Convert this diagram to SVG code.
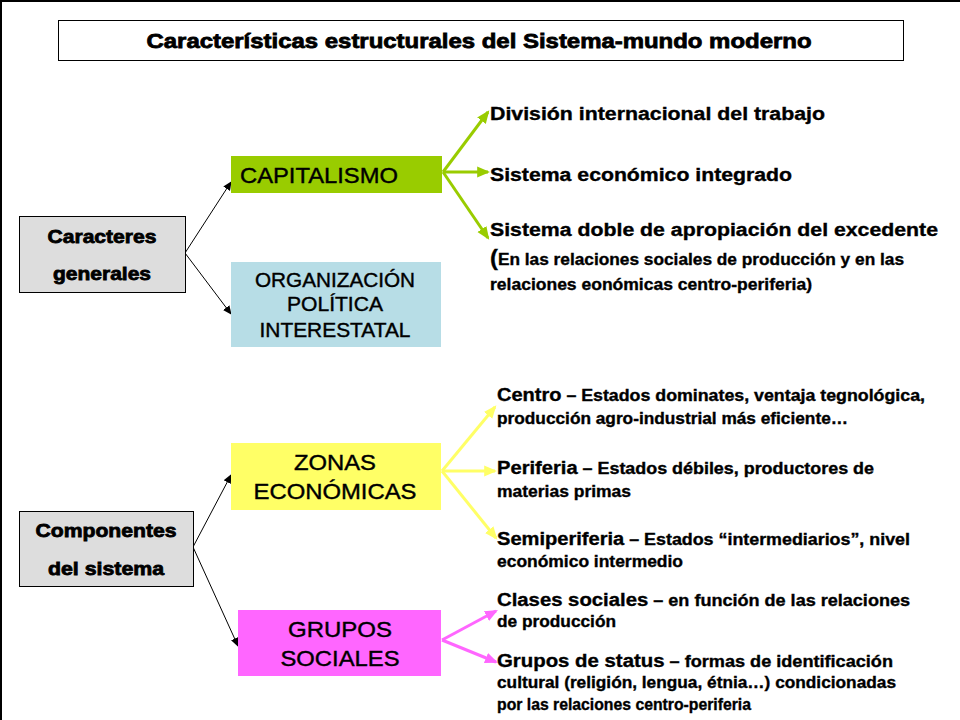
<svg xmlns="http://www.w3.org/2000/svg" width="960" height="720" viewBox="0 0 960 720" font-family="'Liberation Sans', Arial, Helvetica, sans-serif">
<defs>
<style>
text{font-family:'Liberation Sans',Arial,Helvetica,sans-serif;fill:#000}
.b{font-weight:bold;stroke:#000;stroke-width:0.35}
.h{stroke-width:0.8}
.box{stroke:none}
.gray{fill:#dddddd;stroke:#000;stroke-width:1}
.conn{fill:none}
.blk{stroke:#000;stroke-width:1}
.grn{stroke:#99cc00;stroke-width:3}
.yel{stroke:#ffff66;stroke-width:3}
.pnk{stroke:#ff66ff;stroke-width:3}
</style>
<marker id="ab" markerUnits="userSpaceOnUse" markerWidth="10" markerHeight="10" refX="8" refY="4" orient="auto" viewBox="0 0 10 8"><path d="M0,0 L9,4 L0,8 z" fill="#000"/></marker>
<marker id="ag" markerUnits="userSpaceOnUse" markerWidth="13" markerHeight="12" refX="10" refY="5" orient="auto" viewBox="0 0 12 10"><path d="M0,0 L12,5 L0,10 z" fill="#99cc00"/></marker>
<marker id="ay" markerUnits="userSpaceOnUse" markerWidth="13" markerHeight="12" refX="10" refY="5" orient="auto" viewBox="0 0 12 10"><path d="M0,0 L12,5 L0,10 z" fill="#ffff66"/></marker>
<marker id="ap" markerUnits="userSpaceOnUse" markerWidth="13" markerHeight="12" refX="10" refY="5" orient="auto" viewBox="0 0 12 10"><path d="M0,0 L12,5 L0,10 z" fill="#ff66ff"/></marker>
</defs>
<rect x="0" y="0" width="960" height="720" fill="#fff"/>
<path d="M1,720 V1 H960" fill="none" stroke="#000" stroke-width="2"/>

<g id="title">
<rect x="58.5" y="20.5" width="845" height="40" fill="#fff" stroke="#000" stroke-width="1"/>
<text x="479" y="48" text-anchor="middle" class="b h" font-size="21" textLength="665" lengthAdjust="spacingAndGlyphs">Características estructurales del Sistema-mundo moderno</text>
</g>

<g id="connectors">
<line class="conn blk" x1="185" y1="253" x2="231" y2="182" marker-end="url(#ab)"/>
<line class="conn blk" x1="185" y1="253" x2="231" y2="314" marker-end="url(#ab)"/>
<line class="conn blk" x1="193" y1="547" x2="231" y2="475" marker-end="url(#ab)"/>
<line class="conn blk" x1="193" y1="547" x2="238" y2="646" marker-end="url(#ab)"/>
<line class="conn grn" x1="443" y1="172" x2="488" y2="112" marker-end="url(#ag)"/>
<line class="conn grn" x1="443" y1="172" x2="488" y2="172" marker-end="url(#ag)"/>
<line class="conn grn" x1="443" y1="172" x2="488" y2="238" marker-end="url(#ag)"/>
<line class="conn yel" x1="442" y1="471" x2="495" y2="407" marker-end="url(#ay)"/>
<line class="conn yel" x1="442" y1="471" x2="495" y2="471" marker-end="url(#ay)"/>
<line class="conn yel" x1="442" y1="471" x2="496" y2="538" marker-end="url(#ay)"/>
<line class="conn pnk" x1="442" y1="640" x2="496" y2="611" marker-end="url(#ap)"/>
<line class="conn pnk" x1="442" y1="640" x2="496" y2="662" marker-end="url(#ap)"/>
</g>

<g id="caracteres">
<rect class="gray" x="19.5" y="216.5" width="166" height="76"/>
<text x="102" y="243" text-anchor="middle" class="b h" font-size="19" textLength="109" lengthAdjust="spacingAndGlyphs">Caracteres</text>
<text x="102" y="280" text-anchor="middle" class="b h" font-size="19" textLength="98" lengthAdjust="spacingAndGlyphs">generales</text>
</g>

<g id="capitalismo">
<rect class="box" x="231" y="156" width="211" height="37" fill="#99cc00"/>
<text x="240" y="183" font-size="22" stroke="#000" stroke-width="0.4" textLength="158" lengthAdjust="spacingAndGlyphs">CAPITALISMO</text>
</g>

<g id="organizacion">
<rect class="box" x="231" y="262" width="210" height="85" fill="#b7dde6"/>
<text x="335" y="287" text-anchor="middle" font-size="20" stroke="#000" stroke-width="0.4" textLength="160" lengthAdjust="spacingAndGlyphs">ORGANIZACIÓN</text>
<text x="335" y="311" text-anchor="middle" font-size="20" stroke="#000" stroke-width="0.4" textLength="96" lengthAdjust="spacingAndGlyphs">POLÍTICA</text>
<text x="335" y="337" text-anchor="middle" font-size="20" stroke="#000" stroke-width="0.4" textLength="151" lengthAdjust="spacingAndGlyphs">INTERESTATAL</text>
</g>

<g id="cap-items">
<text x="490" y="120" class="b" font-size="18" textLength="335" lengthAdjust="spacingAndGlyphs">División internacional del trabajo</text>
<text x="490" y="181" class="b" font-size="18" textLength="302" lengthAdjust="spacingAndGlyphs">Sistema económico integrado</text>
<text x="490" y="236" class="b" font-size="18" textLength="448" lengthAdjust="spacingAndGlyphs">Sistema doble de apropiación del excedente</text>
<text x="490" y="265" class="b" font-size="16" textLength="414" lengthAdjust="spacingAndGlyphs"><tspan font-size="22">(</tspan>En las relaciones sociales de producción y en las</text>
<text x="490" y="290" class="b" font-size="16" textLength="322" lengthAdjust="spacingAndGlyphs">relaciones eonómicas centro-periferia)</text>
</g>

<g id="componentes">
<rect class="gray" x="19.5" y="511.5" width="174" height="75"/>
<text x="106" y="537" text-anchor="middle" class="b h" font-size="19" textLength="141" lengthAdjust="spacingAndGlyphs">Componentes</text>
<text x="106" y="575" text-anchor="middle" class="b h" font-size="19" textLength="116" lengthAdjust="spacingAndGlyphs">del sistema</text>
</g>

<g id="zonas">
<rect class="box" x="231" y="443" width="210" height="67" fill="#ffff66"/>
<text x="335" y="470" text-anchor="middle" font-size="22" stroke="#000" stroke-width="0.4" textLength="82" lengthAdjust="spacingAndGlyphs">ZONAS</text>
<text x="335" y="499" text-anchor="middle" font-size="22" stroke="#000" stroke-width="0.4" textLength="163" lengthAdjust="spacingAndGlyphs">ECONÓMICAS</text>
</g>

<g id="grupos">
<rect class="box" x="238" y="610" width="203" height="66" fill="#ff66ff"/>
<text x="340" y="637" text-anchor="middle" font-size="22" stroke="#000" stroke-width="0.4" textLength="104" lengthAdjust="spacingAndGlyphs">GRUPOS</text>
<text x="340" y="666" text-anchor="middle" font-size="22" stroke="#000" stroke-width="0.4" textLength="119" lengthAdjust="spacingAndGlyphs">SOCIALES</text>
</g>

<g id="zonas-items">
<text x="497" y="401" class="b" font-size="16" textLength="428" lengthAdjust="spacingAndGlyphs"><tspan font-size="18">Centro</tspan> – Estados dominates, ventaja tegnológica,</text>
<text x="497" y="424" class="b" font-size="16" textLength="351" lengthAdjust="spacingAndGlyphs">producción agro-industrial más eficiente…</text>
<text x="497" y="474" class="b" font-size="16" textLength="377" lengthAdjust="spacingAndGlyphs"><tspan font-size="18">Periferia</tspan> – Estados débiles, productores de</text>
<text x="497" y="497" class="b" font-size="16" textLength="134" lengthAdjust="spacingAndGlyphs">materias primas</text>
<text x="497" y="545" class="b" font-size="16" textLength="413" lengthAdjust="spacingAndGlyphs"><tspan font-size="18">Semiperiferia</tspan> – Estados “intermediarios”, nivel</text>
<text x="497" y="567" class="b" font-size="16" textLength="186" lengthAdjust="spacingAndGlyphs">económico intermedio</text>
</g>

<g id="grupos-items">
<text x="497" y="606" class="b" font-size="16" textLength="413" lengthAdjust="spacingAndGlyphs"><tspan font-size="18">Clases sociales</tspan> – en función de las relaciones</text>
<text x="497" y="627" class="b" font-size="16" textLength="119" lengthAdjust="spacingAndGlyphs">de producción</text>
<text x="497" y="667" class="b" font-size="16" textLength="396" lengthAdjust="spacingAndGlyphs"><tspan font-size="18">Grupos de status</tspan> – formas de identificación</text>
<text x="497" y="688" class="b" font-size="16" textLength="399" lengthAdjust="spacingAndGlyphs">cultural (religión, lengua, étnia…) condicionadas</text>
<text x="497" y="710" class="b" font-size="16" textLength="254" lengthAdjust="spacingAndGlyphs">por las relaciones centro-periferia</text>
</g>
</svg>
